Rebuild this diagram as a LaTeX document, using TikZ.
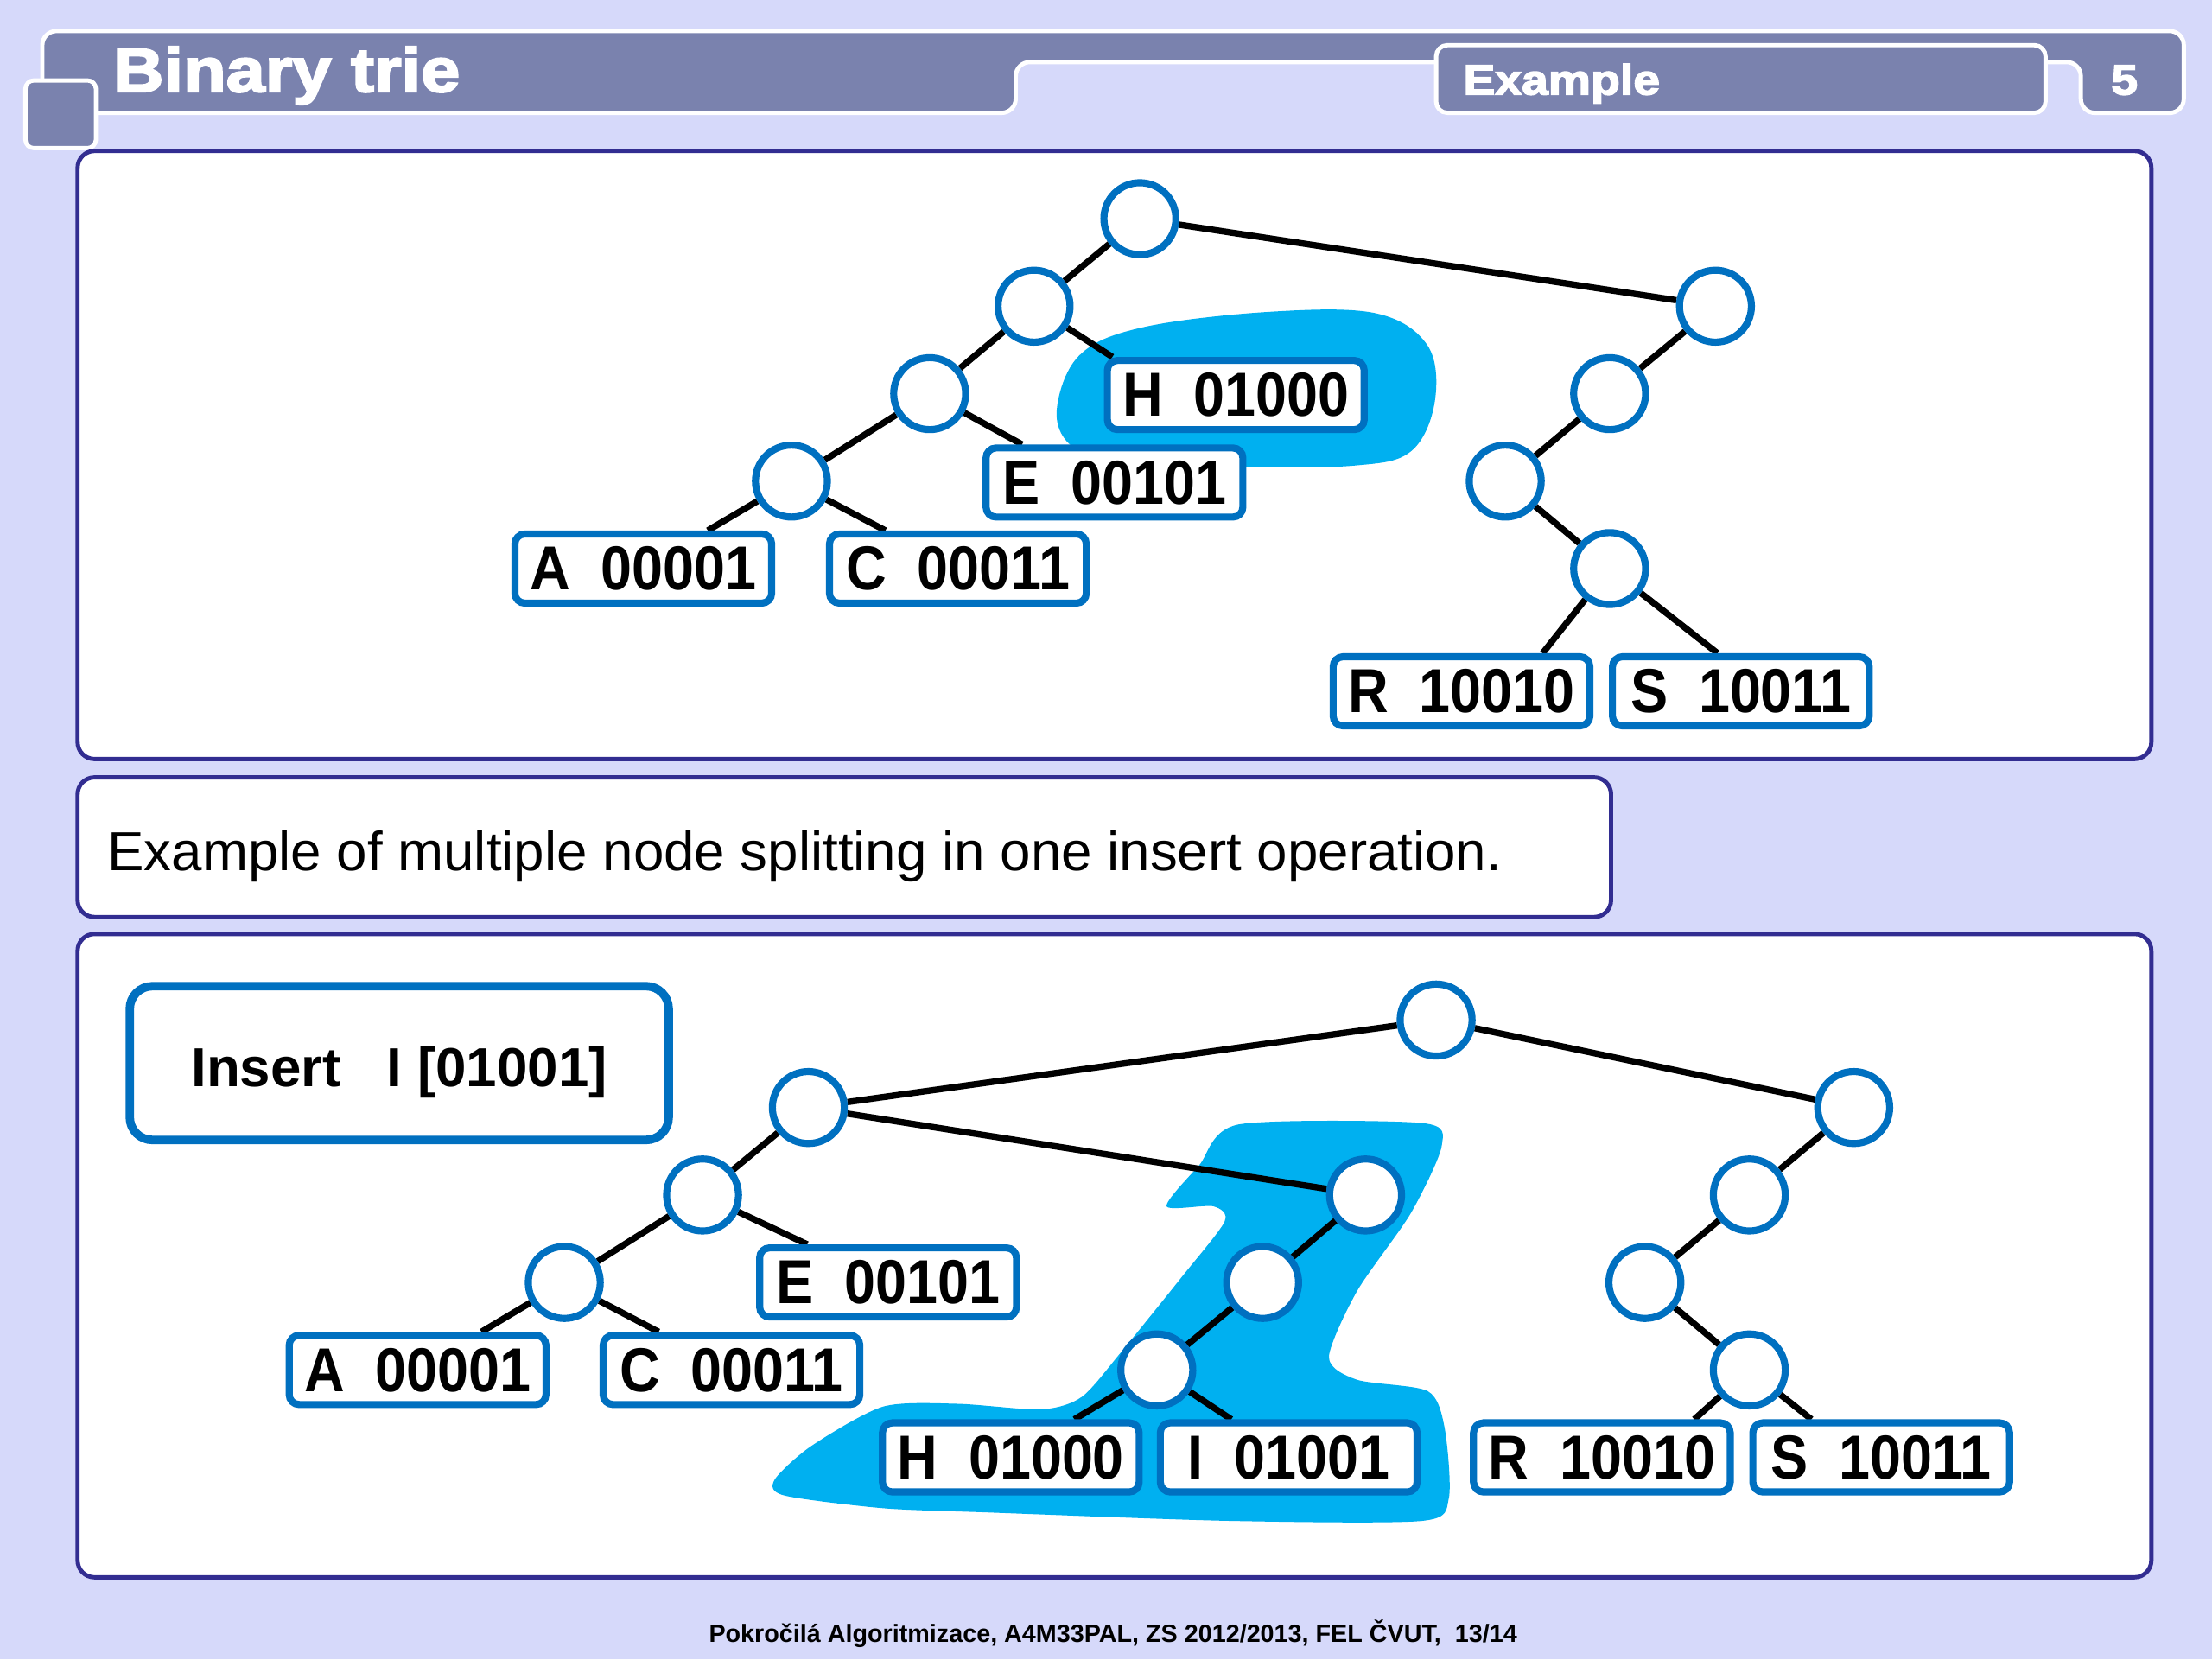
\documentclass[tikz,border=0pt]{standalone}
\usepackage{fontspec}
\setmainfont{Liberation Sans}
\newfontfamily\leaffont[FakeStretch=0.9]{Liberation Sans}
\newfontfamily\headfont[FakeStretch=1.13,FakeBold=3]{Liberation Sans}
\usetikzlibrary{backgrounds}
\definecolor{SlideBg}{RGB}{214,217,250}
\definecolor{SlideBar}{RGB}{122,130,174}
\definecolor{SlideFrame}{RGB}{50,45,145}
\definecolor{TrieBlue}{HTML}{0070C0}
\definecolor{TrieCyan}{HTML}{00B0F0}
\tikzset{
    % Header shapes
    headbar/.style={
        fill=SlideBar,
        draw=white,
        line width=3pt
    },
    % White content panel
    panel/.style={
        fill=white,
        draw=SlideFrame,
        line width=3pt,
        rounded corners=12pt
    },
    % Internal trie node
    knot/.style={
        circle,
        draw=TrieBlue,
        fill=white,
        line width=5pt,
        minimum size=51pt,
        inner sep=0pt
    },
    % Leaf with key
    leafbox/.style={
        rectangle,
        rounded corners=7pt,
        draw=TrieBlue,
        fill=white,
        line width=5pt,
        minimum width=182pt,
        minimum height=49pt,
        inner sep=0pt,
        font=\leaffont\bfseries\fontsize{44}{48}\selectfont
    },
    % Trie edge
    link/.style={
        draw=black,
        line width=4.5pt
    },
    % Highlighted region
    blob/.style={
        fill=TrieCyan
    }
}

\begin{document}
\begin{tikzpicture}[x=1pt, y=-1pt]
    \useasboundingbox (0,0) rectangle (1568,1176);

    \begin{pgfonlayer}{background}
        \fill[SlideBg] (0,0) rectangle (1568,1176);
        % header
        \filldraw[headbar, rounded corners=10pt] (30,80) -- (30,22) -- (1548,22) -- (1548,80)
            -- (1475,80) -- (1475,44) -- (720,44) -- (720,80) -- cycle;
        \filldraw[headbar, rounded corners=8pt] (1018,32) rectangle (1450,80);
        \filldraw[headbar, rounded corners=6pt] (18,57) rectangle (68,105);
        % panels
        \filldraw[panel] (55,107) rectangle (1525,538);
        \filldraw[panel] (55,551) rectangle (1142,650);
        \filldraw[panel] (55,662) rectangle (1525,1118);
        % highlighted leaves
        \fill[blob] plot[smooth cycle, tension=0.6] coordinates {
            (749,292) (765,252) (810,232) (900,221) (975,222) (1012,245)
            (1017,285) (1000,320) (960,330) (880,331) (800,328) (762,318)};
        \fill[blob] plot[smooth cycle, tension=0.45] coordinates {
            (878,797) (1008,796) (1022,812) (1000,860) (962,915) (942,962)
            (962,978) (1012,986) (1024,1012) (1027,1062) (1008,1078) (872,1078)
            (700,1072) (626,1069) (556,1060) (549,1049) (575,1025) (626,997)
            (679,995) (738,999) (767,990) (795,958) (837,906) (868,866)
            (860,855) (827,855) (850,826)};
    \end{pgfonlayer}

    % header texts
    \node[anchor=base west, text=white, inner sep=0pt, font=\headfont\bfseries\fontsize{44}{50}\selectfont] (title) at (80,65) {Binary trie};
    \node[anchor=base west, text=white, inner sep=0pt, font=\headfont\bfseries\fontsize{30}{34}\selectfont] (subtitle) at (1037,67) {Example};
    \node[anchor=base, text=white, inner sep=0pt, font=\headfont\bfseries\fontsize{30}{34}\selectfont] (pagenum) at (1506,67) {5};

    % trie before insert
    \node[knot] (t) at (808,155) {};
    \node[knot] (t0) at (733,217) {};
    \node[knot] (t00) at (659,279) {};
    \node[knot] (t000) at (561,341) {};
    \node[knot] (t1) at (1216,217) {};
    \node[knot] (t10) at (1141,279) {};
    \node[knot] (t100) at (1067,341) {};
    \node[knot] (t1001) at (1141,403) {};
    \node[leafbox] (tA) at (456,403) {A~~00001};
    \node[leafbox] (tC) at (679,403) {C~~00011};
    \node[leafbox] (tE) at (790,342) {E~~00101};
    \node[leafbox] (tH) at (876,280) {H~~01000};
    \node[leafbox] (tR) at (1036,490) {R~~10010};
    \node[leafbox] (tS) at (1234,490) {S~~10011};

    \node[anchor=base west, inner sep=0pt, font=\fontsize{39}{44}\selectfont] (caption) at (76,617) {Example of multiple node splitting in one insert operation.};

    % trie after insert
    \node[rectangle, rounded corners=16pt, draw=TrieBlue, fill=white, line width=6pt,
          minimum width=382pt, minimum height=109pt, text height=33pt, text depth=0pt,
          font=\bfseries\fontsize{39}{44}\selectfont] (insert) at (283,753.5) {Insert~~~I [01001]};
    \node[knot] (b) at (1018,723) {};
    \node[knot] (b0) at (573,785) {};
    \node[knot] (b00) at (498,847) {};
    \node[knot] (b000) at (400,909) {};
    \node[knot] (b01) at (968,847) {};
    \node[knot] (b010) at (895,909) {};
    \node[knot] (b0100) at (820,971) {};
    \node[knot] (b1) at (1314,785) {};
    \node[knot] (b10) at (1240,847) {};
    \node[knot] (b100) at (1166,909) {};
    \node[knot] (b1001) at (1240,971) {};
    \node[leafbox] (bE) at (629.5,909) {E~~00101};
    \node[leafbox] (bA) at (296,971) {A~~00001};
    \node[leafbox] (bC) at (518.5,971) {C~~00011};
    \node[leafbox] (bH) at (716.5,1033) {H~~01000};
    \node[leafbox] (bI) at (913.5,1033) {I~~01001};
    \node[leafbox] (bR) at (1135.5,1033) {R~~10010};
    \node[leafbox] (bS) at (1333.5,1033) {S~~10011};

    \begin{pgfonlayer}{background}
        \draw[link] (t000) -- (t00) -- (t0) -- (t) -- (t1) -- (t10) -- (t100) -- (t1001);
        \draw[link] (t000) -- (tA);
        \draw[link] (t000) -- (tC);
        \draw[link] (t00) -- ([xshift=28pt]tE.north west);
        \draw[link] (t0) -- ([xshift=6pt]tH.north west);
        \draw[link] (t1001) -- ([xshift=-36pt]tR.north east);
        \draw[link] (t1001) -- ([xshift=77pt]tS.north west);

        \draw[link] (b000) -- (b00) -- (b0) -- (b) -- (b1) -- (b10) -- (b100) -- (b1001);
        \draw[link] (b0) -- (b01) -- (b010) -- (b0100);
        \draw[link] (b000) -- (bA);
        \draw[link] (b000) -- (bC);
        \draw[link] (b00) -- (bE);
        \draw[link] (b0100) -- (bH);
        \draw[link] (b0100) -- (bI);
        \draw[link] (b1001) -- ([xshift=-28pt]bR.north east);
        \draw[link] (b1001) -- ([xshift=44pt]bS.north west);
    \end{pgfonlayer}

    \node[font=\bfseries\fontsize{17.6}{20}\selectfont] (footer) at (789,1158) {Pokročilá Algoritmizace, A4M33PAL, ZS 2012/2013, FEL ČVUT,~~13/14};
\end{tikzpicture}
\end{document}
